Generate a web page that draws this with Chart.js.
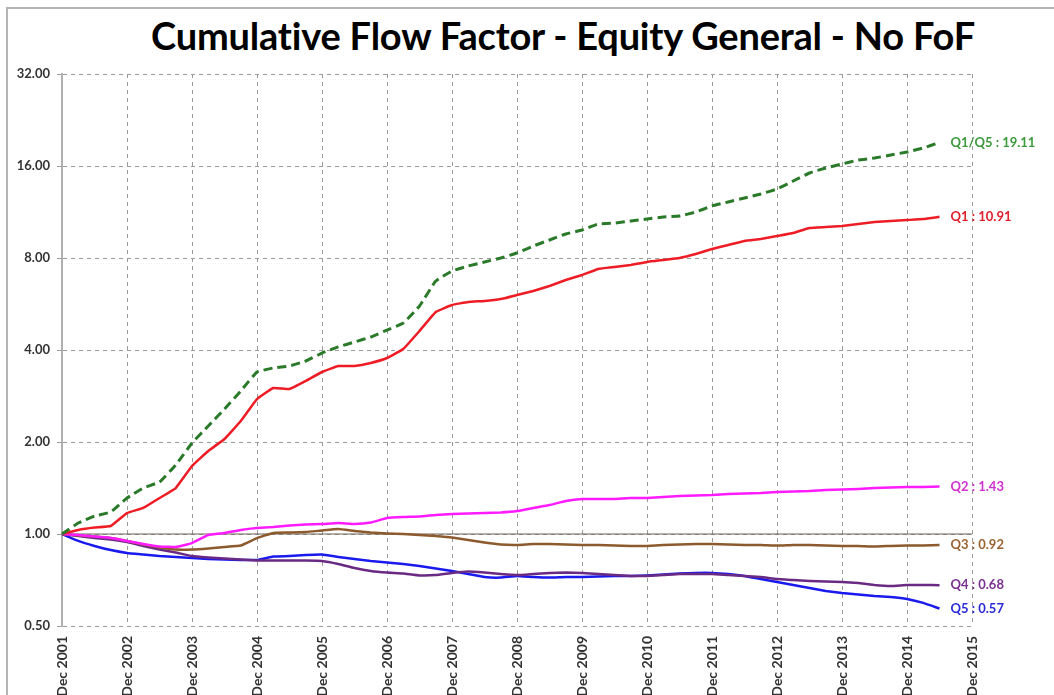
<!DOCTYPE html>
<html>
<head>
<meta charset="utf-8">
<script src="https://cdn.jsdelivr.net/npm/chart.js@4.4.1/dist/chart.umd.min.js"></script>
<style>
  html, body { margin: 0; padding: 0; background: #fff; overflow: hidden; }
  #frame { position: absolute; left: 6px; top: 7px; width: 1100px; height: 800px;
           border-left: 2px solid #b4b4b4; border-top: 2px solid #b4b4b4; }
  #title { position: absolute; left: 0; top: 12px; width: 1126px; text-align: center;
           font-family: Lato, sans-serif; font-weight: bold; font-size: 38px; color: #000;
           white-space: nowrap; letter-spacing: -0.2px; }
  #wrap { position: absolute; left: 0; top: 0; width: 1054px; height: 695px; }
</style>
</head>
<body>
<div id="frame"></div>
<div id="title">Cumulative Flow Factor - Equity General - No FoF</div>
<div id="wrap"><canvas id="myChart"></canvas></div>
<script>
// Dados (trimestrais, Dec 2001 .. Jun 2015)

const months = ['Dec', 'Mar', 'Jun', 'Sep'];
const quarters = [];
for (let i = 0; i <= 56; i++) {
    quarters.push(months[i % 4] + ' ' + (2001 + Math.ceil(i / 4)));
}

const yTicks = [0.5, 1, 2, 4, 8, 16, 32];
const refValue = 1;

const seriesNames = ['Q1/Q5', 'Q1', 'Q2', 'Q3', 'Q4', 'Q5'];

const q1q5 = [1.00, 1.086, 1.145, 1.180, 1.311, 1.414, 1.480, 1.682, 1.985, 2.256, 2.565, 2.937,
    3.389, 3.493, 3.546, 3.682, 3.910, 4.093, 4.248, 4.411, 4.650, 4.901, 5.573, 6.727,
    7.253, 7.532, 7.764, 8.000, 8.306, 8.756, 9.163, 9.587, 9.878, 10.34, 10.41, 10.57,
    10.73, 10.90, 10.98, 11.31, 11.84, 12.20, 12.57, 12.96, 13.45, 14.29, 15.18, 15.76,
    16.24, 16.74, 16.99, 17.38, 17.78, 18.33, 19.11];

const q1 = [1.00, 1.031, 1.050, 1.062, 1.171, 1.217, 1.311, 1.414, 1.669, 1.869, 2.046, 2.343,
    2.765, 3.004, 2.981, 3.167, 3.389, 3.546, 3.546, 3.627, 3.766, 4.031, 4.616, 5.326,
    5.615, 5.744, 5.787, 5.873, 6.054, 6.239, 6.479, 6.778, 7.038, 7.363, 7.474, 7.588,
    7.764, 7.880, 8.000, 8.243, 8.562, 8.822, 9.093, 9.232, 9.440, 9.658, 10.03, 10.10,
    10.18, 10.34, 10.49, 10.57, 10.65, 10.73, 10.91];

const q2 = [1.00, 0.993, 0.981, 0.970, 0.949, 0.927, 0.910, 0.907, 0.934, 0.993, 1.008, 1.031,
    1.046, 1.054, 1.066, 1.074, 1.078, 1.086, 1.078, 1.090, 1.128, 1.137, 1.141, 1.154,
    1.163, 1.167, 1.171, 1.176, 1.189, 1.217, 1.244, 1.282, 1.302, 1.302, 1.302, 1.311,
    1.311, 1.321, 1.331, 1.336, 1.341, 1.352, 1.357, 1.362, 1.372, 1.377, 1.383, 1.393,
    1.398, 1.404, 1.414, 1.419, 1.425, 1.425, 1.43];

const q3 = [1.00, 0.989, 0.981, 0.970, 0.949, 0.924, 0.903, 0.890, 0.890, 0.897, 0.907, 0.917,
    0.970, 1.008, 1.011, 1.015, 1.027, 1.038, 1.023, 1.011, 1.004, 1.000, 0.993, 0.985,
    0.974, 0.956, 0.938, 0.924, 0.921, 0.927, 0.927, 0.924, 0.921, 0.921, 0.917, 0.914,
    0.914, 0.921, 0.924, 0.927, 0.927, 0.924, 0.921, 0.921, 0.917, 0.921, 0.921, 0.917,
    0.914, 0.914, 0.910, 0.914, 0.917, 0.917, 0.92];

const q4 = [1.00, 0.985, 0.970, 0.959, 0.941, 0.914, 0.890, 0.870, 0.847, 0.838, 0.831, 0.825,
    0.819, 0.819, 0.819, 0.819, 0.816, 0.798, 0.774, 0.757, 0.748, 0.743, 0.732, 0.734,
    0.746, 0.754, 0.748, 0.740, 0.734, 0.740, 0.746, 0.748, 0.746, 0.740, 0.734, 0.729,
    0.729, 0.734, 0.740, 0.740, 0.740, 0.734, 0.729, 0.723, 0.712, 0.707, 0.702, 0.699,
    0.696, 0.691, 0.681, 0.676, 0.681, 0.681, 0.68];

const q5 = [1.00, 0.949, 0.914, 0.886, 0.867, 0.857, 0.847, 0.841, 0.835, 0.828, 0.825, 0.822,
    0.822, 0.844, 0.847, 0.854, 0.857, 0.841, 0.828, 0.816, 0.807, 0.798, 0.786, 0.771,
    0.757, 0.740, 0.723, 0.720, 0.729, 0.723, 0.720, 0.723, 0.723, 0.726, 0.729, 0.729,
    0.732, 0.737, 0.743, 0.746, 0.746, 0.740, 0.729, 0.712, 0.696, 0.681, 0.666, 0.651,
    0.641, 0.634, 0.627, 0.622, 0.613, 0.595, 0.57];

const lineColors = ['#2a7a2a', '#ee1c25', '#ff1aff', '#8c5a2c', '#6a2a84', '#1a1aee'];
const textColors = ['#3c9a3c', '#e0202a', '#d030d0', '#9a6430', '#7a3090', '#2a2ad8'];

// Plugin: linha em 1.00 e rótulos no fim de cada série
const endLabels = {
    id: 'endLabels',
    beforeDatasetsDraw(chart) {
        const {ctx, chartArea, scales} = chart;
        const y = scales.y.getPixelForValue(refValue);
        ctx.save();
        ctx.strokeStyle = '#6e6258';
        ctx.lineWidth = 1;
        ctx.beginPath();
        ctx.moveTo(chartArea.left, y);
        ctx.lineTo(chartArea.right, y);
        ctx.stroke();
        ctx.restore();
    },
    afterDatasetsDraw(chart) {
        const {ctx} = chart;
        ctx.save();
        ctx.font = 'bold 13px Lato';
        ctx.textBaseline = 'middle';
        chart.data.datasets.forEach((ds, i) => {
            const meta = chart.getDatasetMeta(i);
            const last = ds.data.length - 1;
            const pt = meta.data[last];
            ctx.fillStyle = textColors[i];
            ctx.fillText(seriesNames[i] + ' : ' + ds.data[last].toFixed(2), pt.x + 11, pt.y);
        });
        ctx.restore();
    }
};

const allSeries = [q1q5, q1, q2, q3, q4, q5];

const config = {
    type: 'line',
    data: {
        labels: quarters,
        datasets: allSeries.map((s, i) => ({
            label: seriesNames[i],
            data: s,
            borderColor: lineColors[i],
            borderWidth: i === 0 ? 3 : 2.5,
            borderDash: i === 0 ? [9, 5] : [],
            tension: 0.1
        }))
    },
    options: {
        responsive: false,
        animation: false,
        elements: {
            point: {
                radius: 0,
            }
        },
        layout: {
            padding: {top: 74, right: 82, left: 0, bottom: 0}
        },
        plugins: {
            legend: {
                display: false,
            },
            tooltip: {
                enabled: false,
            }
        },
        scales: {
            x: {
                afterFit(scale) { scale.height = 69; },
                border: {display: false, dash: [4, 4]},
                grid: {
                    color: '#9a9a9a',
                    drawTicks: false,
                },
                ticks: {
                    autoSkip: false,
                    minRotation: 90,
                    maxRotation: 90,
                    padding: 10,
                    color: '#333',
                    font: {family: 'Lato', size: 14, weight: 'bold'},
                    callback: function (val, idx) {
                        return idx % 4 === 0 ? this.getLabelForValue(val) : null;
                    }
                }
            },
            y: {
                type: 'logarithmic',
                min: 0.5,
                max: 32,
                afterFit(scale) { scale.width = 62; },
                afterBuildTicks(scale) {
                    scale.ticks = yTicks.map(v => ({value: v}));
                },
                border: {display: true, color: '#b0b0b0', width: 2, dash: [4, 4]},
                grid: {
                    color: '#9a9a9a',
                    tickLength: 5,
                },
                ticks: {
                    padding: 7,
                    color: '#333',
                    font: {family: 'Lato', size: 13, weight: 'bold'},
                    callback: v => Number(v).toFixed(2)
                }
            },
        }
    },
    plugins: [endLabels]
};

const canvas = document.getElementById('myChart');
canvas.width = 1054;
canvas.height = 695;
const myChart = new Chart(canvas, config);
</script>
</body>
</html>
